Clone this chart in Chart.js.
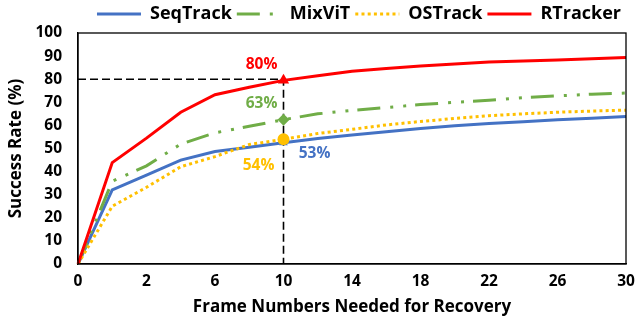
<!DOCTYPE html>
<html><head><meta charset="utf-8">
<script src="https://cdn.jsdelivr.net/npm/chart.js@4/dist/chart.umd.min.js"></script>
<style>html,body{margin:0;padding:0;background:#fff;}</style>
</head><body><canvas id="c" width="636" height="317"></canvas>
<script>
const frames = ['0','1','2','4','6','8','10','12','14','16','18','20','22','24','26','28','30'];
const seqTrack = [0,32.1,38.5,45,48.7,50.5,52.5,54.3,55.8,57.2,58.7,59.8,60.8,61.6,62.4,63.1,63.8];
const mixViT   = [0,35.8,42.5,51.9,56.8,59.6,62.5,65,66.5,67.7,69,70,70.9,72,72.8,73.5,74];
const osTrack  = [0,25,33.2,42.1,46.5,51.7,54,56.5,58.3,60.2,61.7,63,64.2,65,65.7,66.2,66.6];
const rTracker = [0,43.9,54.5,65.7,73.3,76.5,79.5,81.5,83.4,84.6,85.7,86.6,87.4,87.9,88.3,88.8,89.4];
const seriesNames = ['SeqTrack','MixViT','OSTrack','RTracker'];
const highlightFrame = '10';
const refLevel = 80;
const highlightLabels = ['53%','63%','54%','80%'];

const FONT = '"Open Sans"';
const hi = frames.indexOf(highlightFrame);
const pr = r => frames.map((f,i)=> i===hi ? r : 0);

const series = [
  {label:seriesNames[0], data:seqTrack, borderColor:'#4472C4', backgroundColor:'#4472C4', borderDash:[], pointStyle:'triangle', pointRadius:pr(5), order:4},
  {label:seriesNames[1], data:mixViT, borderColor:'#70AD47', backgroundColor:'#70AD47', borderDash:[23,10,3,10,3,9], pointStyle:'rectRot', pointRadius:pr(6), order:3},
  {label:seriesNames[2], data:osTrack, borderColor:'#FFC000', backgroundColor:'#FFC000', borderDash:[3,3.2], pointStyle:'circle', pointRadius:pr(6), order:2},
  {label:seriesNames[3], data:rTracker, borderColor:'#FF0000', backgroundColor:'#FF0000', borderDash:[], pointStyle:'triangle', pointRadius:pr(6.5), order:1},
].map(d=>Object.assign({borderWidth:3, tension:0, pointBorderWidth:0, pointHoverRadius:0, fill:false}, d));

const refLine = {
  label:'ref', data:[{x:frames[0],y:refLevel},{x:highlightFrame,y:refLevel},{x:highlightFrame,y:0}],
  borderColor:'#000', borderWidth:1.6, borderDash:[8,4], pointRadius:0, fill:false, order:5, tension:0
};

const offsets = [[31,11],[-22,-16],[-25,26],[-22,-16]];
const annot = {
  id:'annot',
  afterDraw(chart){
    const {ctx, chartArea:a, scales:{x,y}} = chart;
    ctx.save();
    ctx.strokeStyle='#000'; ctx.lineWidth=1.3;
    ctx.strokeRect(a.left, a.top, a.right-a.left, a.bottom-a.top);
    ctx.font = 'bold 15.5px '+FONT;
    ctx.textAlign='center'; ctx.textBaseline='middle';
    series.forEach((s,i)=>{
      const px = x.getPixelForValue(hi), py = y.getPixelForValue(s.data[hi]);
      ctx.fillStyle = s.borderColor;
      ctx.fillText(highlightLabels[i], px+offsets[i][0], py+offsets[i][1]);
    });
    ctx.restore();
  }
};

new Chart(document.getElementById('c'), {
  type:'line',
  data:{labels:frames, datasets:[...series, refLine]},
  options:{
    responsive:false, animation:false,
    layout:{padding:{left:0,right:10,top:0,bottom:0}},
    plugins:{
      tooltip:{enabled:false},
      legend:{
        position:'top', align:'end',
        labels:{
          usePointStyle:true, pointStyle:'line', pointStyleWidth:44, boxHeight:17,
          padding:5, color:'#000', font:{family:FONT, size:18, weight:'bold'},
          generateLabels(chart){
            return series.map((s,i)=>({text:s.label, strokeStyle:s.borderColor, fillStyle:s.borderColor,
              lineWidth:3, lineDash:s.borderDash, pointStyle:'line', datasetIndex:i, hidden:false, fontColor:'#000'}));
          }
        }
      }
    },
    scales:{
      x:{
        type:'category',
        grid:{display:false, drawTicks:false},
        border:{display:true, color:'#000', width:1.3},
        ticks:{autoSkip:false, maxRotation:0, padding:8, color:'#000', font:{family:FONT, size:15.5, weight:'bold'},
          callback(v,i){ return i%2===0 ? this.getLabelForValue(v) : ''; }},
        title:{display:true, text:'Frame Numbers Needed for Recovery', color:'#000', padding:{top:0,bottom:0},
          font:{family:FONT, size:17, weight:'bold'}},
        afterFit(s){ s.height = 53; s.paddingRight = 0; s.paddingLeft = 0; }
      },
      y:{
        min:0, max:100,
        grid:{display:false, drawTicks:false},
        border:{display:true, color:'#000', width:1.3},
        ticks:{stepSize:10, autoSkip:false, padding:16, color:'#000', font:{family:FONT, size:15.5, weight:'bold'}},
        title:{display:true, text:'Success Rate (%)', color:'#000', padding:{top:6,bottom:0},
          font:{family:FONT, size:17, weight:'bold'}},
        afterFit(s){ s.width = 78; s.paddingTop = 0; s.paddingBottom = 0; }
      }
    }
  },
  plugins:[annot]
});
</script></body></html>
